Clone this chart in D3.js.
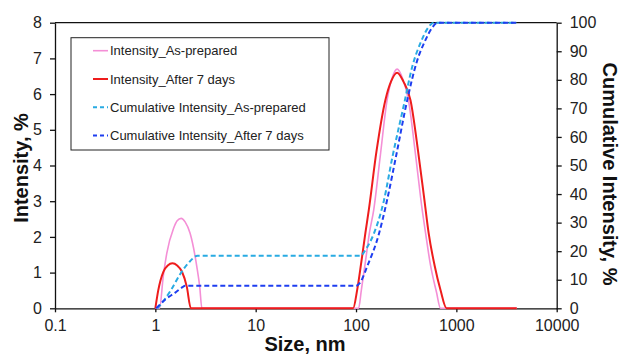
<!DOCTYPE html>
<html lang="en">
<head>
  <meta charset="UTF-8" />
  <title>Intensity vs size</title>
  <style>
    * { margin:0; padding:0; box-sizing:border-box; }
    body { background:#fff; width:620px; height:354px; overflow:hidden; font-family:'Liberation Sans',Arial,sans-serif; }
    svg { display:block; }
    .axis path, .axis line { stroke:#111; stroke-width:1.3px; }
    .axis text { font-size:16px; fill:#222; font-family:'Liberation Sans',Arial,sans-serif; }
    .title { font-size:20px; font-weight:bold; fill:#111; }
    .legend text { font-size:13px; fill:#222; }
  </style>
</head>
<body>
<script src="https://d3js.org/d3.v7.min.js"></script>
<script>
  // data (size in nm)
  const xTicks = [0.1, 1, 10, 100, 1000, 10000];
  const xTickLabels = ['0.1', '1', '10', '100', '1000', '10000'];
  const yTicks = [0, 1, 2, 3, 4, 5, 6, 7, 8];
  const y2Ticks = [0, 10, 20, 30, 40, 50, 60, 70, 80, 90, 100];

  const prepSize = [1.0, 1.10, 1.20, 1.30, 1.52, 1.65, 1.81, 1.98, 2.22, 2.59, 2.77, 2.91,
    106, 113, 124, 136, 150, 175, 204, 229, 257, 290, 333, 392, 457, 493, 553, 634, 695, 4000];
  const prepInt = [0, 0, 0.9, 1.54, 2.24, 2.45, 2.52, 2.42, 2.10, 1.17, 0.6, 0,
    0, 0.51, 1.3, 2.11, 2.75, 4.3, 5.83, 6.45, 6.7, 6.45, 5.83, 4.3, 2.75, 2.11, 1.2, 0.45, 0, 0];

  const d7Size = [1.0, 1.07, 1.205, 1.33, 1.48, 1.65, 1.84, 2.06, 2.26,
    93.5, 102.6, 113, 124, 134, 160, 196, 223, 257, 297, 349, 420, 482, 529, 607, 695, 798, 4000];
  const d7Int = [0, 0.51, 1.03, 1.2, 1.26, 1.2, 1.03, 0.6, 0,
    0, 0.51, 1.3, 2.11, 2.75, 4.4, 5.83, 6.35, 6.6, 6.35, 5.83, 4.3, 3.0, 2.11, 1.2, 0.51, 0, 0];

  const prepCumSize = [1.05, 1.2, 1.41, 1.77, 2.22, 2.63, 110, 127, 150, 189, 230, 299, 366, 440, 529, 592, 4000];
  const prepCum = [0, 2.5, 6, 12, 16.5, 18.4, 18.4, 21, 26, 37.5, 52.8, 71, 85, 93, 98.5, 100, 100];

  const d7CumSize = [1.02, 1.25, 1.58, 1.85, 1.98, 100, 110, 129, 169, 204, 253, 324, 401, 493, 580, 649, 4000];
  const d7Cum = [0, 3, 5.5, 7.3, 7.9, 7.9, 9, 14.6, 26, 37.9, 54, 72.9, 86, 94, 98.5, 100, 100];

  const W = 620, H = 354;
  const L = 55, R = 556.7, T = 22.7, B = 308.3;

  const svg = d3.select('body').append('svg').attr('width', W).attr('height', H);

  const x = d3.scaleLog().domain([0.1, 10000]).range([L, R]);
  const y = d3.scaleLinear().domain([0, 8]).range([B, T]);
  const y2 = d3.scaleLinear().domain([0, 100]).range([B, T]);

  // top frame line
  svg.append('line').attr('x1', L).attr('x2', R).attr('y1', T).attr('y2', T)
    .attr('stroke', '#111').attr('stroke-width', 1.3);

  svg.append('g').attr('class', 'axis').attr('transform', `translate(${L},0)`)
    .call(d3.axisLeft(y).tickValues(yTicks).tickSize(5).tickPadding(8).tickSizeOuter(0));
  svg.append('g').attr('class', 'axis').attr('transform', `translate(${R},0)`)
    .call(d3.axisRight(y2).tickValues(y2Ticks).tickSize(5).tickPadding(8).tickSizeOuter(0));
  svg.append('g').attr('class', 'axis').attr('transform', `translate(0,${B})`)
    .call(d3.axisBottom(x).tickValues(xTicks).tickFormat((d, i) => xTickLabels[i])
      .tickSize(4).tickPadding(7).tickSizeOuter(0));

  const mk = (xs, vs) => xs.map((s, i) => [s, vs[i]]);
  const line1 = d3.line().x(d => x(d[0])).y(d => y(d[1])).curve(d3.curveMonotoneX);
  const line2 = d3.line().x(d => x(d[0])).y(d => y2(d[1])).curve(d3.curveMonotoneX);

  const series = [
    { name: 'Intensity_As-prepared', data: mk(prepSize, prepInt), gen: line1, color: '#f48fd6', w: 1.6, dash: null },
    { name: 'Intensity_After 7 days', data: mk(d7Size, d7Int), gen: line1, color: '#ee1c1c', w: 2, dash: null },
    { name: 'Cumulative Intensity_As-prepared', data: mk(prepCumSize, prepCum), gen: line2, color: '#29abe2', w: 2, dash: '5,3' },
    { name: 'Cumulative Intensity_After 7 days', data: mk(d7CumSize, d7Cum), gen: line2, color: '#1e3ef0', w: 2, dash: '5,3' }
  ];

  series.forEach(s => {
    svg.append('path').datum(s.data).attr('d', s.gen)
      .attr('fill', 'none').attr('stroke', s.color).attr('stroke-width', s.w)
      .attr('stroke-dasharray', s.dash);
  });

  // legend
  const lg = svg.append('g').attr('class', 'legend');
  lg.append('rect').attr('x', 71).attr('y', 37.7).attr('width', 258).attr('height', 112.3)
    .attr('fill', '#fff').attr('stroke', '#222').attr('stroke-width', 1);
  series.forEach((s, i) => {
    const yy = 50.7 + i * 28.3;
    lg.append('line').attr('x1', 93).attr('x2', 108).attr('y1', yy).attr('y2', yy)
      .attr('stroke', s.color).attr('stroke-width', s.w)
      .attr('stroke-dasharray', s.dash ? '4,3' : null);
    lg.append('text').attr('x', 110).attr('y', yy).attr('dy', '0.35em').text(s.name);
  });

  // axis titles
  svg.append('text').attr('class', 'title').attr('text-anchor', 'middle')
    .attr('x', 305).attr('y', 351).text('Size, nm');
  svg.append('text').attr('class', 'title').attr('text-anchor', 'middle')
    .attr('transform', 'translate(21,168) rotate(-90)').attr('dy', '0.35em').text('Intensity, %');
  svg.append('text').attr('class', 'title').attr('text-anchor', 'middle')
    .attr('transform', 'translate(610,174) rotate(90)').attr('dy', '0.35em').text('Cumulative Intensity, %');
</script>
</body>
</html>
